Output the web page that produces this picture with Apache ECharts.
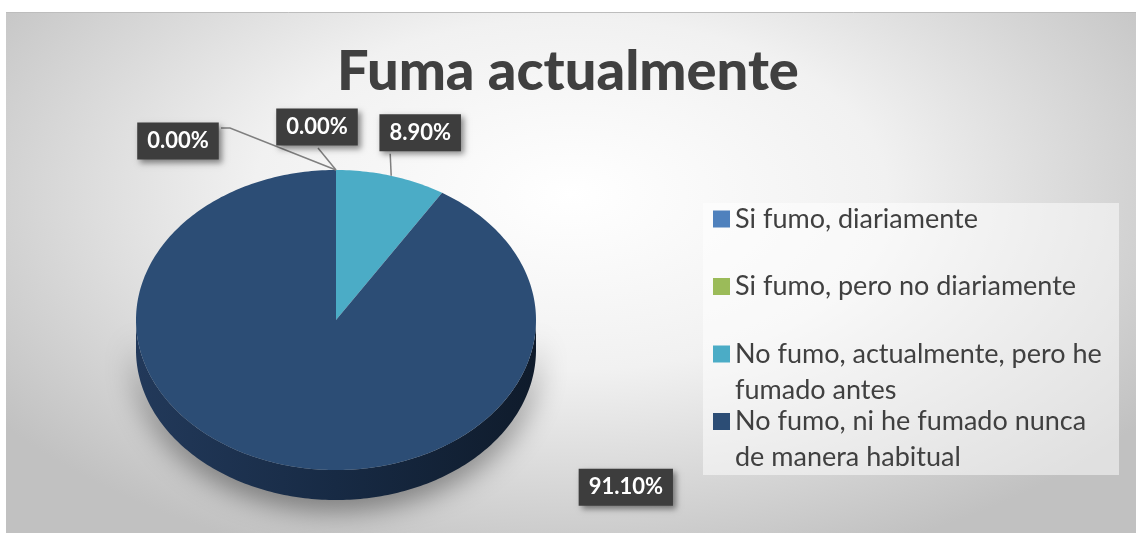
<!DOCTYPE html>
<html>
<head>
<meta charset="utf-8">
<script src="https://cdn.jsdelivr.net/npm/echarts@6/dist/echarts.min.js"></script>
<style>
  html, body { margin: 0; padding: 0; background: #fff; }
  #main { width: 1136px; height: 533px; }
</style>
</head>
<body>
<div id="main"></div>
<script>
var categories = [
  'Si fumo, diariamente',
  'Si fumo, pero no diariamente',
  'No fumo, actualmente, pero he fumado antes',
  'No fumo, ni he fumado nunca de manera habitual'
];
var values = [0, 0, 8.9, 91.1];
var colors = ['#4f81bd', '#9bbb59', '#4bacc6', '#2c4d75'];

// pie geometry (ellipse, px)
var pie = { cx: 336, cy: 320, rx: 200, ry: 150, depth: 30 };
// label box centre relative to slice anchor, and leader bend points relative to box centre
var labelOffsets = [[-158, -29], [-19, -43], [29, -43], [345, 23]];
var leaders = [[[52, -13], [43, -13]], [[1, 21]], [[-30, 21]], []];

var total = values.reduce(function (a, b) { return a + b; }, 0);
var starts = [];
var acc = 0;
values.forEach(function (v) { starts.push(acc); acc += v; });

function pt(deg, dy) {
  var r = deg * Math.PI / 180;
  return [pie.cx + pie.rx * Math.sin(r), pie.cy - pie.ry * Math.cos(r) + (dy || 0)];
}

function arc(a, b, dy) {
  var out = [];
  var n = Math.max(2, Math.ceil(Math.abs(b - a)));
  for (var k = 0; k <= n; k++) out.push(pt(a + (b - a) * k / n, dy));
  return out;
}

function renderItem(params, api) {
  var i = params.dataIndex;
  var v = api.value(0);
  var a = starts[i] / total * 360;
  var b = a + v / total * 360;
  var children = [];

  if (v > 0) {
    // side wall, only the front half is visible
    var s = Math.max(a, 90), e = Math.min(b, 270);
    if (e > s) {
      var top = arc(s, e, 0);
      var bottom = arc(e, s, pie.depth);
      children.push({
        type: 'polygon',
        z2: 1,
        shape: { points: top.concat(bottom) },
        style: {
          fill: new echarts.graphic.LinearGradient(pie.cx - pie.rx, 0, pie.cx + pie.rx, 0, [
            { offset: 0, color: '#22395a' },
            { offset: 0.5, color: '#172a44' },
            { offset: 1, color: '#0f1b2b' }
          ], true),
          shadowBlur: 30,
          shadowColor: 'rgba(0,0,0,0.5)',
          shadowOffsetY: 8
        }
      });
    }
    children.push({
      type: 'polygon',
      z2: 10,
      shape: { points: [[pie.cx, pie.cy]].concat(arc(a, b, 0)) },
      style: { fill: colors[i] }
    });
  }

  var mid = (a + b) / 2;
  var anchor = pt(mid, 0);
  var lx = anchor[0] + labelOffsets[i][0];
  var ly = anchor[1] + labelOffsets[i][1];
  if (leaders[i].length) {
    var pts = [anchor].concat(leaders[i].map(function (p) { return [lx + p[0], ly + p[1]]; }));
    children.push({
      type: 'polyline',
      z2: 20,
      shape: { points: pts },
      style: { stroke: '#7f7f7f', lineWidth: 1.5, fill: null }
    });
  }
  children.push({
    type: 'text',
    z2: 30,
    x: lx,
    y: ly,
    style: {
      text: v.toFixed(2) + '%',
      align: 'center',
      verticalAlign: 'middle',
      fill: '#ffffff',
      fontSize: 22,
      fontWeight: 'bold',
      fontFamily: 'Lato',
      backgroundColor: '#3d3d3d',
      padding: [8, 10, 7, 10],
      shadowBlur: 6,
      shadowColor: 'rgba(0,0,0,0.45)',
      shadowOffsetX: 3,
      shadowOffsetY: 3
    }
  });
  return { type: 'group', children: children };
}

var chart = echarts.init(document.getElementById('main'));

var option = {
  backgroundColor: '#ffffff',
  color: colors,
  animation: false,
  title: {
    text: 'Fuma actualmente',
    left: 'center',
    top: 39,
    textStyle: { fontSize: 56, fontWeight: 900, fontFamily: 'Lato', color: '#404040' }
  },
  graphic: [
    {
      type: 'rect',
      z: -10,
      x: 6,
      y: 12,
      scaleX: 1.8,
      shape: { x: 0, y: 0, width: 1130 / 1.8, height: 521 },
      style: {
        fill: new echarts.graphic.RadialGradient(0.5, 0.35, 0.75, [
          { offset: 0, color: '#ffffff' },
          { offset: 0.45, color: '#f1f1f1' },
          { offset: 1, color: '#c1c1c1' }
        ])
      }
    },
    {
      type: 'line',
      z: -9,
      shape: { x1: 6, y1: 12.5, x2: 1136, y2: 12.5 },
      style: { stroke: '#bdbdbd', lineWidth: 1 }
    },
    {
      type: 'rect',
      z: -8,
      shape: { x: 703, y: 203, width: 416, height: 272 },
      style: { fill: 'rgba(255,255,255,0.5)' }
    }
  ],
  legend: {
    orient: 'vertical',
    left: 713,
    top: 165,
    padding: 0,
    itemGap: -40.5,
    itemWidth: 17,
    itemHeight: 17,
    icon: 'rect',
    selectedMode: false,
    data: categories,
    // an empty first line keeps the icon level with the first text line;
    // single-line items get a blank last line so all items are equally tall
    formatter: function (name) {
      return categories.indexOf(name) < 2 ? '\n' + name + '\n\u00a0' : '\n' + name;
    },
    textStyle: {
      fontSize: 27,
      fontFamily: 'Lato',
      color: '#404040',
      lineHeight: 36,
      width: 381,
      overflow: 'break'
    }
  },
  series: [
    {
      type: 'custom',
      coordinateSystem: 'none',
      renderItem: renderItem,
      data: values.map(function (v, i) { return { name: categories[i], value: [v] }; })
    },
    {
      // invisible pie: only feeds the legend with the category colours
      type: 'pie',
      radius: 0,
      center: [pie.cx, pie.cy],
      silent: true,
      label: { show: false },
      labelLine: { show: false },
      data: values.map(function (v, i) { return { name: categories[i], value: v }; })
    }
  ]
};

chart.setOption(option);
</script>
</body>
</html>
